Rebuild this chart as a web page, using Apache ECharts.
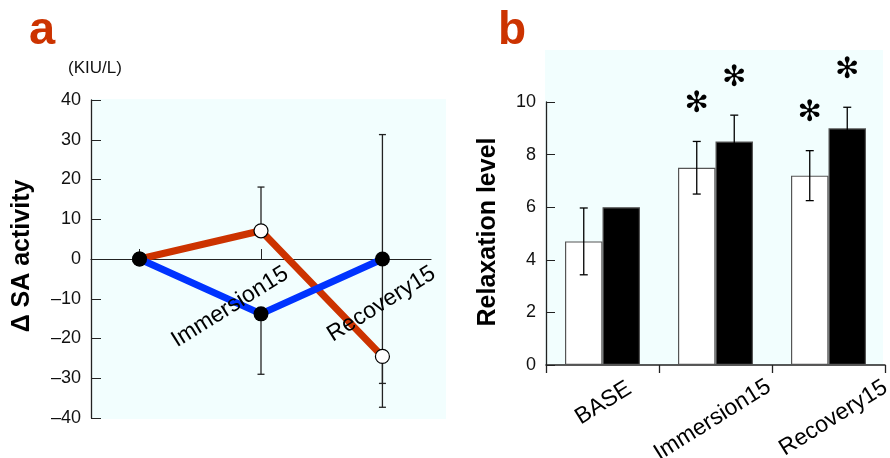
<!DOCTYPE html>
<html>
<head>
<meta charset="utf-8">
<script src="https://cdn.jsdelivr.net/npm/echarts@6/dist/echarts.min.js"></script>
<style>
  html, body { margin: 0; padding: 0; background: #fff; }
  #chart { width: 890px; height: 458px; }
</style>
</head>
<body>
<div id="chart"></div>
<script>
// panel a: ΔSA activity (two groups, line + one-sided SD)
const aTimes = [0, 1, 2];
const aLabels = ['', 'Immersion15', 'Recovery15'];
const aRedMean = [0, 7.1, -24.5];
const aRedErrUp = [0, 11, 0];
const aRedErrDown = [0, 0, 12.8];
const aBlueMean = [0, -13.8, 0];
const aBlueErrUp = [0, 0, 31.3];
const aBlueErrDown = [0, 15.2, 31.3];

// panel b: relaxation level (white / black bars, SD, significance)
const bCategories = ['BASE', 'Immersion15', 'Recovery15'];
const bWhite = [4.7, 7.5, 7.2];
const bWhiteSd = [1.27, 1.0, 0.95];
const bBlack = [6.0, 8.5, 9.0];
const bBlackSd = [0, 1.0, 0.8];
const bWhiteSig = [false, true, true];
const bBlackSig = [false, true, true];

const FONT = '"Liberation Sans", Arial, Helvetica, sans-serif';
const RED = '#cc3300';
const BLUE = '#0033ff';
const BG = '#f2fefe';
const BAR_W = 37.5;

const chart = echarts.init(document.getElementById('chart'));

function errSegments(mean, up, down) {
  const out = [];
  aTimes.forEach((x, i) => {
    if (up[i] > 0) out.push([x, mean[i], mean[i] + up[i]]);
    if (down[i] > 0) out.push([x, mean[i], mean[i] - down[i]]);
  });
  return out;
}

function renderSeg(params, api) {
  const p0 = api.coord([api.value(0), api.value(1)]);
  const p1 = api.coord([api.value(0), api.value(2)]);
  const st = { stroke: '#222', lineWidth: 1.3 };
  return {
    type: 'group',
    children: [
      { type: 'line', shape: { x1: p0[0], y1: p0[1], x2: p1[0], y2: p1[1] }, style: st },
      { type: 'line', shape: { x1: p1[0] - 3.5, y1: p1[1], x2: p1[0] + 3.5, y2: p1[1] }, style: st },
    ],
  };
}

function barErr(side, sd, sig) {
  return function (params, api) {
    const i = api.value(0);
    const mean = api.value(1);
    const s = sd[i];
    const c = api.coord([i, mean]);
    const x = c[0] + side * BAR_W / 2;
    const st = { stroke: '#000', lineWidth: 1.3 };
    const children = [];
    let top = c[1];
    if (s > 0) {
      top = api.coord([i, mean + s])[1];
      const bot = api.coord([i, mean - s])[1];
      children.push(
        { type: 'line', shape: { x1: x, y1: top, x2: x, y2: bot }, style: st },
        { type: 'line', shape: { x1: x - 4, y1: top, x2: x + 4, y2: top }, style: st },
        { type: 'line', shape: { x1: x - 4, y1: bot, x2: x + 4, y2: bot }, style: st },
      );
    }
    if (sig[i]) {
      children.push({
        type: 'text',
        style: {
          text: '✻', x: x, y: top - 37, align: 'center', verticalAlign: 'middle',
          font: 'bold 29px "DejaVu Sans"', fill: '#000',
        },
      });
    }
    return { type: 'group', children };
  };
}

const axisBlack = { onZero: false, lineStyle: { color: '#222', width: 1.3 } };

chart.setOption({
  animation: false,
  grid: [
    { left: 91, top: 100, width: 340, height: 318 },
    { left: 546, top: 102, width: 339, height: 263 },
  ],
  xAxis: [
    {
      gridIndex: 0, type: 'value', min: -0.4, max: 2.4,
      axisLine: { onZero: true, lineStyle: { color: '#222', width: 1.2 } },
      axisTick: { show: true, inside: true, length: 10, customValues: [0, 1], lineStyle: { color: '#222' } },
      axisLabel: { show: false },
      splitLine: { show: false },
    },
    {
      gridIndex: 1, type: 'category', data: bCategories,
      axisLine: { lineStyle: { color: '#222', width: 1.5 } },
      axisTick: { show: true, length: 8, lineStyle: { color: '#222', width: 1.3 } },
      axisLabel: { show: false },
    },
  ],
  yAxis: [
    {
      gridIndex: 0, type: 'value', min: -40, max: 40, interval: 10,
      axisLine: { show: true, ...axisBlack },
      axisTick: { show: true, inside: true, length: 10, lineStyle: { color: '#222' } },
      axisLabel: {
        color: '#111', fontSize: 18, fontFamily: FONT, margin: 10,
        formatter: v => v < 0 ? '–' + Math.abs(v) : String(v),
      },
      splitLine: { show: false },
    },
    {
      gridIndex: 1, type: 'value', min: 0, max: 10, interval: 2,
      axisLine: { show: true, ...axisBlack },
      axisTick: { show: true, inside: true, length: 9, lineStyle: { color: '#222' } },
      axisLabel: { color: '#111', fontSize: 18, fontFamily: FONT, margin: 10 },
      splitLine: { show: false },
    },
  ],
  series: [
    {
      type: 'custom', xAxisIndex: 0, yAxisIndex: 0, z: 1,
      renderItem: renderSeg,
      data: errSegments(aRedMean, aRedErrUp, aRedErrDown).concat(errSegments(aBlueMean, aBlueErrUp, aBlueErrDown)),
    },
    {
      type: 'line', xAxisIndex: 0, yAxisIndex: 0, z: 2,
      data: aTimes.map((x, i) => [x, aRedMean[i]]),
      symbol: 'circle', symbolSize: 14,
      lineStyle: { color: RED, width: 7 },
      itemStyle: { color: '#fff', borderColor: '#000', borderWidth: 1.2 },
    },
    {
      type: 'line', xAxisIndex: 0, yAxisIndex: 0, z: 3,
      data: aTimes.map((x, i) => [x, aBlueMean[i]]),
      symbol: 'circle', symbolSize: 15,
      lineStyle: { color: BLUE, width: 7 },
      itemStyle: { color: '#000', borderColor: '#000', borderWidth: 0 },
    },
    {
      type: 'bar', xAxisIndex: 1, yAxisIndex: 1,
      data: bWhite, barWidth: BAR_W, barGap: '0%',
      itemStyle: { color: '#fff', borderColor: '#555', borderWidth: 1.2 },
    },
    {
      type: 'bar', xAxisIndex: 1, yAxisIndex: 1,
      data: bBlack, barWidth: BAR_W, barGap: '0%',
      itemStyle: { color: '#000', borderColor: '#555', borderWidth: 1.2 },
    },
    {
      type: 'custom', xAxisIndex: 1, yAxisIndex: 1, z: 5, clip: false,
      renderItem: barErr(-1, bWhiteSd, bWhiteSig),
      data: bWhite.map((v, i) => [i, v]),
    },
    {
      type: 'custom', xAxisIndex: 1, yAxisIndex: 1, z: 5, clip: false,
      renderItem: barErr(1, bBlackSd, bBlackSig),
      data: bBlack.map((v, i) => [i, v]),
    },
  ],
  graphic: [
    { type: 'rect', id: 'bgA', z: -10, shape: { x: 91, y: 99, width: 355, height: 320 }, style: { fill: BG } },
    { type: 'rect', id: 'bgB', z: -10, shape: { x: 545, y: 50, width: 338, height: 315 }, style: { fill: BG } },
    { type: 'text', id: 'lblA', x: 29, y: 8, style: { text: 'a', font: 'bold 47px ' + FONT, fill: RED } },
    { type: 'text', id: 'lblB', x: 498, y: 8, style: { text: 'b', font: 'bold 46px ' + FONT, fill: RED } },
    { type: 'text', id: 'unitA', x: 95, y: 68, style: { text: '(KIU/L)', font: '17px ' + FONT, fill: '#111', align: 'center', verticalAlign: 'middle' } },
    {
      type: 'text', id: 'yTitleA', x: 22, y: 256, rotation: Math.PI / 2,
      style: { text: 'Δ SA activity', font: 'bold 25px ' + FONT, fill: '#000', align: 'center', verticalAlign: 'middle' },
    },
    {
      type: 'text', id: 'yTitleB', x: 488, y: 232, rotation: Math.PI / 2,
      style: { text: 'Relaxation level', font: 'bold 25px ' + FONT, fill: '#000', align: 'center', verticalAlign: 'middle' },
    },
  ],
});

// rotated category labels, placed from the axis scale
const ROT = 32 * Math.PI / 180;
const aLabelShift = [[0, 0], [-31, 48], [-1, 45]];
const bLabelShift = [[1, 38], [-3, 55], [5, 53]];
const labels = [];
aTimes.forEach((x, i) => {
  if (!aLabels[i]) return;
  const p = chart.convertToPixel({ xAxisIndex: 0, yAxisIndex: 0 }, [x, 0]);
  labels.push({
    type: 'text', id: 'xa' + i, z: 50, x: p[0] + aLabelShift[i][0], y: p[1] + aLabelShift[i][1], rotation: ROT,
    style: { text: aLabels[i], font: '23px ' + FONT, fill: '#000', align: 'center', verticalAlign: 'middle' },
  });
});
bCategories.forEach((c, i) => {
  const p = chart.convertToPixel({ xAxisIndex: 1, yAxisIndex: 1 }, [i, 0]);
  labels.push({
    type: 'text', id: 'xb' + i, z: 50, x: p[0] + bLabelShift[i][0], y: p[1] + bLabelShift[i][1], rotation: ROT,
    style: { text: c, font: '23px ' + FONT, fill: '#000', align: 'center', verticalAlign: 'middle' },
  });
});
chart.setOption({ graphic: labels });
</script>
</body>
</html>
